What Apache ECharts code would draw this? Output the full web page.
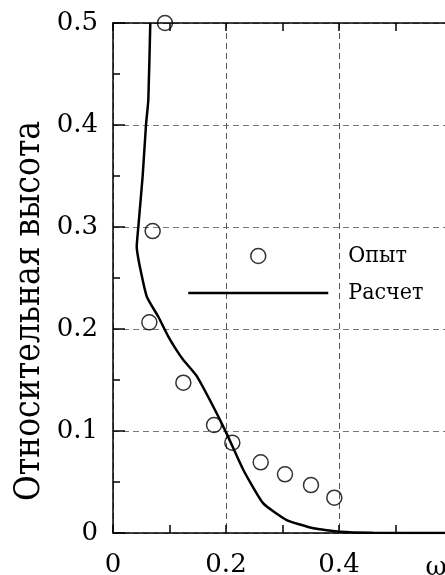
<!DOCTYPE html>
<html>
<head>
<meta charset="utf-8">
<script src="https://cdn.jsdelivr.net/npm/echarts@6/dist/echarts.min.js"></script>
<style>html,body{margin:0;padding:0;background:#fff;}#c{width:445px;height:575px;}</style>
</head>
<body>
<div id="c"></div>
<script>
var seriesNames = ['Опыт', 'Расчет'];
var yTitle = 'Относительная высота';
var xTitle = 'ω';
var xTickLabels = ['0', '0.2', '0.4'];
var yTickLabels = ['0', '0.1', '0.2', '0.3', '0.4', '0.5'];
// experiment points [omega, height]
var expOmega = [0.092, 0.0702, 0.0643, 0.1245, 0.1788, 0.2112, 0.2614, 0.3044, 0.3504, 0.3917];
var expHeight = [0.5, 0.296, 0.2065, 0.1474, 0.1059, 0.0886, 0.0693, 0.0575, 0.047, 0.0346];
// calculation curve
var calcOmega = [0.066, 0.0625, 0.0584, 0.0525, 0.0448, 0.042, 0.0596, 0.0802, 0.098, 0.1127, 0.1245, 0.148, 0.1776, 0.201, 0.2307, 0.266, 0.3074, 0.3546, 0.4018, 0.46, 0.6];
var calcHeight = [0.5, 0.4245, 0.4, 0.35, 0.30, 0.281, 0.232, 0.212, 0.1925, 0.179, 0.1696, 0.154, 0.1238, 0.0977, 0.0618, 0.029, 0.0127, 0.0046, 0.0013, 0.0003, 0];

var F = 'DejaVu Serif';
var FC = '"DejaVu Serif Condensed", "DejaVu Serif"';
function zip(a, b) { return a.map(function (v, i) { return [v, b[i]]; }); }
function fmt(list) {
  return function (v) {
    var s = String(Math.round(v * 10) / 10);
    return list.indexOf(s) >= 0 ? s : '';
  };
}
var chart = echarts.init(document.getElementById('c'), null, {renderer: 'canvas'});
var axisLine = {lineStyle: {color: '#000', width: 1.5}};
chart.setOption({
  animation: false,
  backgroundColor: '#fff',
  textStyle: {fontFamily: F},
  grid: {left: 113, top: 23, right: -7, bottom: 42, containLabel: false, outerBoundsMode: 'none'},
  xAxis: [{
    type: 'value', min: 0, max: 0.6, interval: 0.2,
    axisLine: axisLine,
    axisTick: {inside: true, length: 8, lineStyle: {color: '#000', width: 1.5}},
    minorTick: {show: true, splitNumber: 2, length: 8, lineStyle: {color: '#000', width: 1.5}},
    axisLabel: {formatter: fmt(xTickLabels), fontFamily: F, fontSize: 26, color: '#000', margin: 19},
    splitLine: {show: true, lineStyle: {color: '#555', type: [6, 4], width: 1}}
  }, {
    type: 'value', min: 0, max: 0.6, interval: 0.2, position: 'top',
    axisLine: axisLine,
    axisTick: {inside: true, length: 8, lineStyle: {color: '#000', width: 1.5}},
    minorTick: {show: true, splitNumber: 2, length: 8, lineStyle: {color: '#000', width: 1.5}},
    axisLabel: {show: false}, splitLine: {show: false}
  }],
  yAxis: [{
    type: 'value', min: 0, max: 0.5, interval: 0.1,
    axisLine: axisLine,
    axisTick: {inside: true, length: 12, lineStyle: {color: '#000', width: 1.5}},
    minorTick: {show: true, splitNumber: 2, length: 7, lineStyle: {color: '#000', width: 1.5}},
    axisLabel: {formatter: fmt(yTickLabels), fontFamily: F, fontSize: 26, color: '#000', margin: 15},
    splitLine: {show: true, lineStyle: {color: '#777', type: [6, 4], width: 1}}
  }],
  legend: {
    orient: 'vertical', left: 182, top: 239,
    itemWidth: 140, itemHeight: 15, itemGap: 13,
    textStyle: {fontFamily: FC, fontSize: 23, color: '#000', lineHeight: 24, padding: [0, 0, 0, 15]},
    data: [
      {name: seriesNames[0], icon: 'circle', itemStyle: {color: '#fff', borderColor: '#000', borderWidth: 1.5}},
      {name: seriesNames[1], itemStyle: {opacity: 0}, lineStyle: {color: '#000', width: 2.5, opacity: 1}}
    ]
  },
  graphic: [
    {type: 'text', x: 30, y: 311, rotation: Math.PI / 2,
     style: {text: yTitle, fontFamily: FC, fontSize: 35, fill: '#000', align: 'center', verticalAlign: 'middle'}},
    {type: 'text', x: 436, y: 568,
     style: {text: xTitle, fontFamily: F, fontSize: 26, fill: '#000', align: 'center', verticalAlign: 'middle'}}
  ],
  series: [
    {name: seriesNames[0], type: 'scatter', data: zip(expOmega, expHeight), symbol: 'circle', symbolSize: 15,
     itemStyle: {color: 'rgba(0,0,0,0)', borderColor: '#000', borderWidth: 1.5}, z: 3},
    {name: seriesNames[1], type: 'line', data: zip(calcOmega, calcHeight), showSymbol: false, symbol: 'none',
     smooth: 0.15, lineStyle: {color: '#000', width: 2.5}, itemStyle: {color: '#000'}, z: 2}
  ]
});
</script>
</body>
</html>
